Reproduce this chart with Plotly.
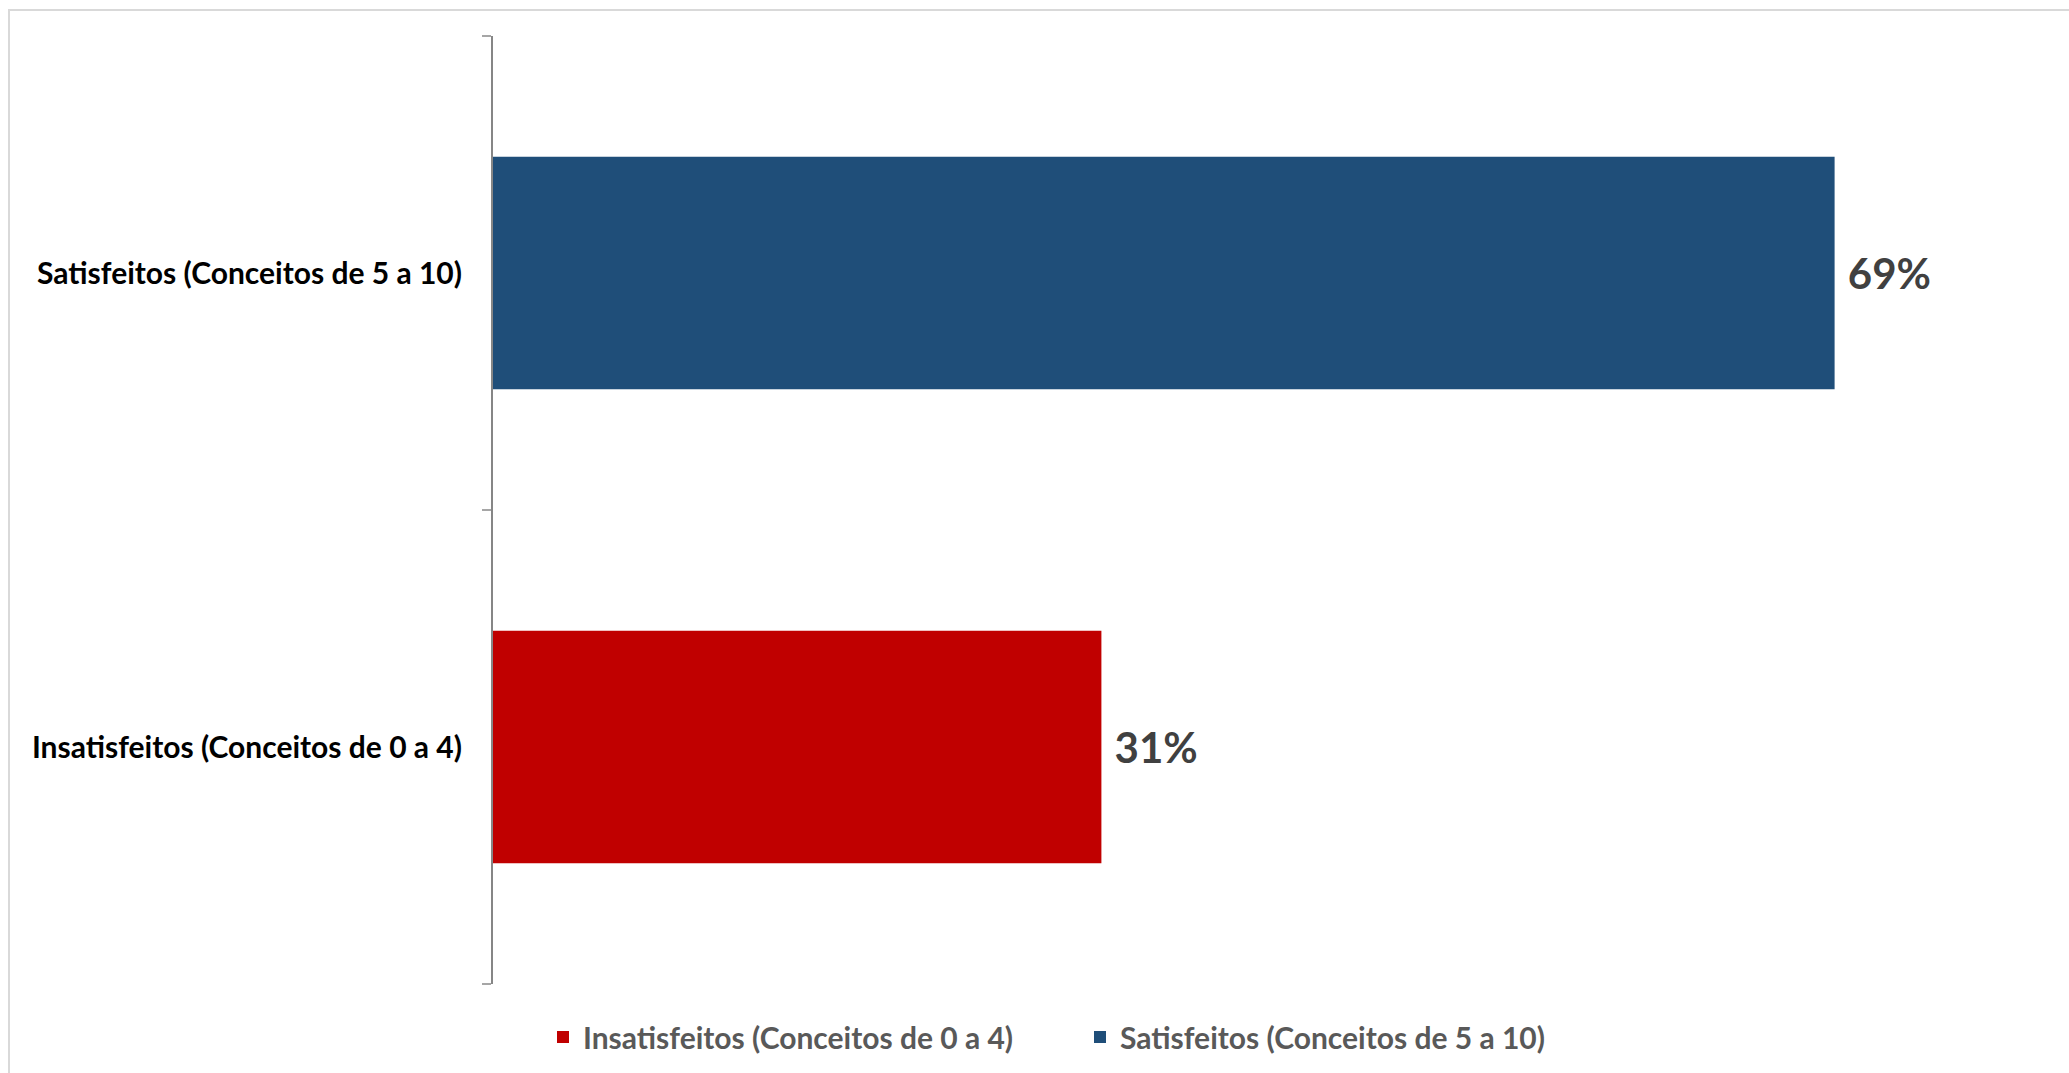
import plotly.graph_objects as go

categories = ["Insatisfeitos (Conceitos de 0 a 4)", "Satisfeitos (Conceitos de 5 a 10)"]
values = [31.2, 68.8]
colors = ["#C00000", "#1F4E79"]

W, H = 2069, 1073
L, R, T, B = 493, 16, 36, 89
FONT = "Lato, 'Open Sans', sans-serif"

fig = go.Figure()
for cat, val, col in zip(categories, values, colors):
    fig.add_trace(go.Bar(
        x=[val], y=[cat], orientation="h", name=cat,
        marker=dict(color=col, line=dict(width=0)),
        texttemplate=" %{x:.0f}%", textposition="outside",
        outsidetextfont=dict(family=FONT, size=42, color="#404040", weight="bold"),
        cliponaxis=False,
    ))

pw = W - L - R
ph = H - T - B
# outer chart border (light gray), extends past right/bottom edges
fig.add_shape(type="rect", xref="paper", yref="paper",
              x0=(9 - L) / pw, x1=(W + 20 - L) / pw,
              y0=-(H + 20 - T - ph) / ph, y1=(ph + T - 10) / ph,
              line=dict(color="#D9D9D9", width=2), fillcolor="rgba(0,0,0,0)", layer="below")

fig.update_layout(
    width=W, height=H,
    margin=dict(l=L, r=R, t=T, b=B, autoexpand=False),
    paper_bgcolor="white", plot_bgcolor="white",
    barmode="relative", bargap=0.51,
    showlegend=True,
    legend=dict(orientation="h", x=(543 - L) / pw, xanchor="left", y=-(1037 - T - ph) / ph,
                yanchor="middle", font=dict(family=FONT, size=30, color="#595959", weight="bold"),
                entrywidth=492, entrywidthmode="pixels", traceorder="normal"),
    xaxis=dict(range=[0, 80], visible=False, showgrid=False, zeroline=False, fixedrange=True),
    yaxis=dict(type="category", categoryorder="array", categoryarray=categories,
               showline=True, linecolor="#868686", linewidth=2,
               ticks="outside", ticklen=9, tickcolor="#A6A6A6", tickwidth=2,
               tickson="boundaries", ticklabelstandoff=23,
               tickfont=dict(family=FONT, size=30, color="#000000", weight="bold"),
               showgrid=False, zeroline=False),
)

fig.write_html("out.html", config={"displayModeBar": False},
               post_script="document.body.style.margin='0';")
